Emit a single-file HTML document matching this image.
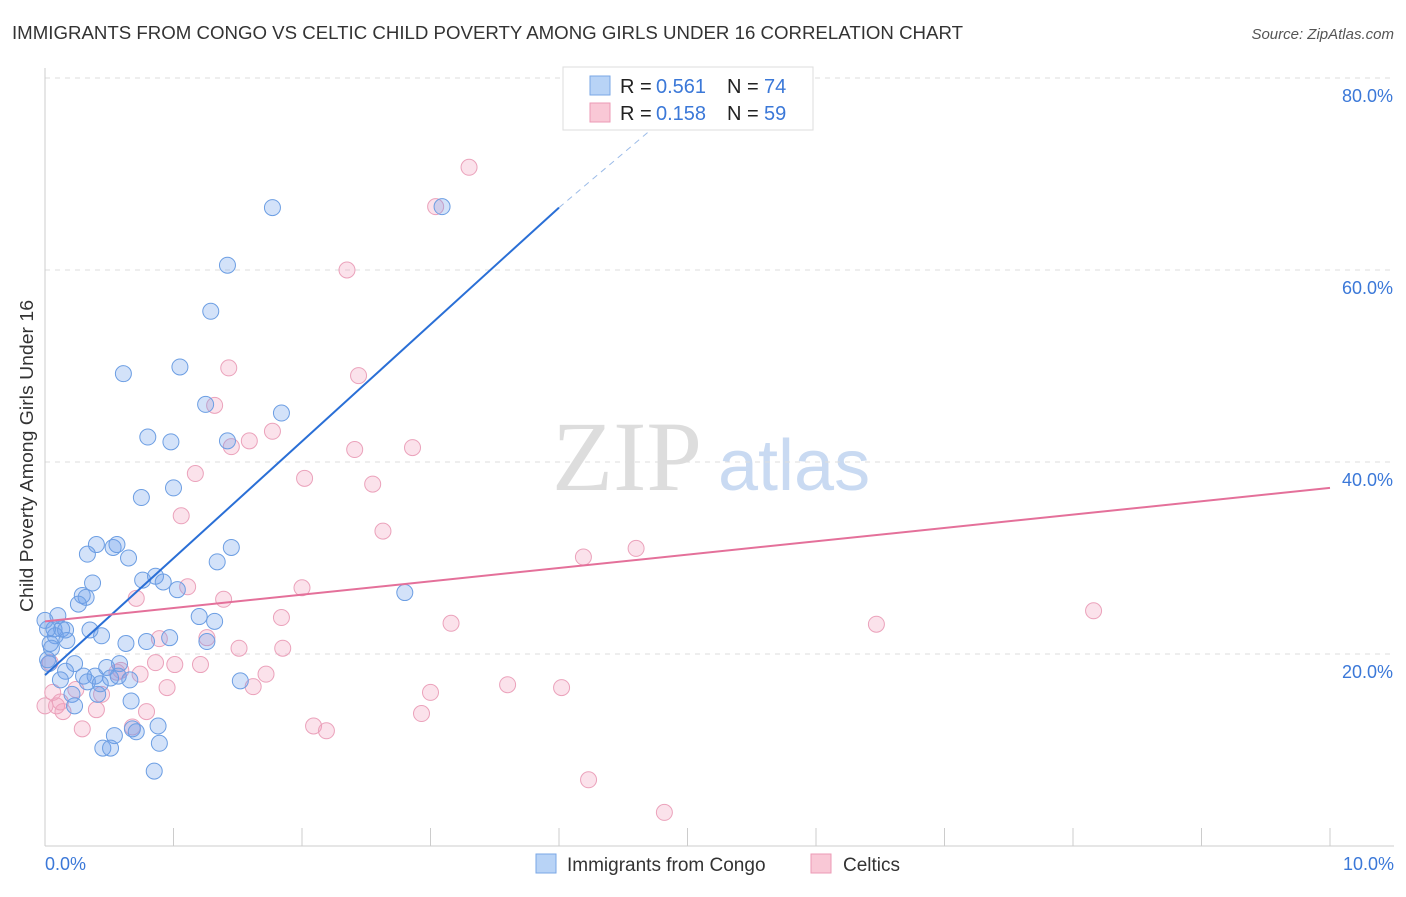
<!DOCTYPE html>
<html><head><meta charset="utf-8"><style>
body{margin:0;background:#fff;font-family:"Liberation Sans",sans-serif;}
</style></head><body>
<svg id="chart" width="1406" height="892" xmlns="http://www.w3.org/2000/svg" font-family="Liberation Sans, sans-serif">
<text x="12" y="39" font-size="18" fill="#333" textLength="951" lengthAdjust="spacingAndGlyphs">IMMIGRANTS FROM CONGO VS CELTIC CHILD POVERTY AMONG GIRLS UNDER 16 CORRELATION CHART</text>
<text x="1394" y="39" font-size="15" fill="#555" text-anchor="end" font-style="italic">Source: ZipAtlas.com</text>
<text x="552" y="490" font-size="100" fill="#ddd" style="font-family:'Liberation Serif',serif">ZIP</text>
<text x="718" y="490" font-size="72" fill="#c9daf2">atlas</text>
<text transform="translate(33,456) rotate(-90)" font-size="18" fill="#333" text-anchor="middle" textLength="312" lengthAdjust="spacingAndGlyphs">Child Poverty Among Girls Under 16</text>
<g id="grid"></g><g id="pts"></g><g id="lines"></g>
<g>
<rect x="563" y="67" width="250" height="63" fill="#fff" stroke="#ddd"/>
<rect x="590" y="76" width="20" height="19" fill="#b8d3f6" stroke="#7aa7e6"/>
<rect x="590" y="103" width="20" height="19" fill="#f9c8d6" stroke="#ec9ab5"/>
<text x="620" y="93" font-size="20" fill="#222">R = </text><text x="656" y="93" font-size="20" fill="#3b78d8">0.561</text>
<text x="727" y="93" font-size="20" fill="#222">N = </text><text x="764" y="93" font-size="20" fill="#3b78d8">74</text>
<text x="620" y="120" font-size="20" fill="#222">R = </text><text x="656" y="120" font-size="20" fill="#3b78d8">0.158</text>
<text x="727" y="120" font-size="20" fill="#222">N = </text><text x="764" y="120" font-size="20" fill="#3b78d8">59</text>
</g>
<g>
<rect x="536" y="854" width="20" height="19" fill="#b8d3f6" stroke="#7aa7e6"/>
<text x="567" y="871" font-size="19" fill="#333">Immigrants from Congo</text>
<rect x="811" y="854" width="20" height="19" fill="#f9c8d6" stroke="#ec9ab5"/>
<text x="843" y="871" font-size="19" fill="#333">Celtics</text>
</g>
</svg>
<script>
const yTicks=[20,40,60,80];
const xTickLabels=["0.0%","10.0%"];
const blueX=[1.77,3.09,1.42,1.29,0.61,1.05,1.25,1.84,0.80,0.98,1.42,1.00,0.75,0.40,0.33,0.53,0.56,0.65,1.45,1.34,0.37,0.76,0.86,0.92,1.03,2.80,0.29,0.32,0.26,0.10,0.07,0.13,0.08,0.17,0.16,0.02,0.04,0.44,0.35,0.63,0.79,0.97,1.20,1.32,1.26,0.03,0.23,0.16,0.30,0.39,0.48,0.58,0.51,0.57,0.66,0.21,0.41,0.33,0.43,1.52,0.23,0.67,0.88,0.68,0.71,0.54,0.45,0.51,0.89,0.85,0.00,0.05,0.12,0.02];
const blueY=[66.5,66.6,60.5,55.7,49.2,49.9,46.0,45.1,42.6,42.1,42.2,37.3,36.3,31.4,30.4,31.1,31.4,30.0,31.1,29.6,27.4,27.7,28.1,27.5,26.7,26.4,26.1,25.9,25.2,24.0,22.6,22.6,21.9,21.4,22.5,22.6,21.1,21.9,22.5,21.1,21.3,21.7,23.9,23.4,21.3,19.0,19.0,18.2,17.7,17.7,18.6,19.0,17.5,17.7,17.3,15.8,15.8,17.1,16.9,17.2,14.6,15.1,12.5,12.2,11.9,11.5,10.2,10.2,10.7,7.8,23.5,20.6,17.3,19.4];
const pinkX=[3.30,3.04,2.35,1.43,2.44,1.32,1.77,1.59,1.45,2.41,2.86,1.17,2.02,2.55,1.06,2.63,4.19,4.60,1.11,2.00,0.71,1.39,1.84,3.16,6.47,8.16,0.89,1.26,1.51,1.85,0.86,1.01,1.21,0.59,0.74,1.72,0.24,0.44,0.95,1.62,3.00,3.60,4.02,0.09,0.14,0.40,0.79,2.93,2.09,2.19,0.29,0.68,4.23,4.82,0.04,0.06,0.56,0.00,0.12];
const pinkY=[70.7,66.6,60.0,49.8,49.0,45.9,43.2,42.2,41.6,41.3,41.5,38.8,38.3,37.7,34.4,32.8,30.1,31.0,27.0,26.9,25.8,25.7,23.8,23.2,23.1,24.5,21.6,21.7,20.6,20.6,19.1,18.9,18.9,18.3,17.9,17.9,16.3,15.8,16.5,16.6,16.0,16.8,16.5,14.6,14.0,14.2,14.0,13.8,12.5,12.0,12.2,12.4,6.9,3.5,19.1,16.0,18.1,14.6,15.0];
const blueLine=[0,17.8,4.0,66.5,4.75,75];
const pinkLine=[0,23.4,10,37.3];
const NS="http://www.w3.org/2000/svg";
const X=v=>45+v*128.5, Y=v=>846-v*9.6;
function mk(p,t,a){const e=document.createElementNS(NS,t);for(const k in a)e.setAttribute(k,a[k]);p.appendChild(e);return e;}
const g=document.getElementById('grid');
yTicks.forEach(t=>{
 const l=mk(g,'line',{x1:45,x2:1394,y1:Y(t),y2:Y(t),stroke:'#ddd','stroke-dasharray':'5,5'});
 
 
 const tx=mk(g,'text',{x:1393,y:Y(t)+24,'font-size':18,fill:'#3b78d8','text-anchor':'end'});tx.textContent=t.toFixed(1)+'%';
 
 
});
mk(g,'line',{x1:45,x2:45,y1:68,y2:846,stroke:'#ccc'});
mk(g,'line',{x1:45,x2:1394,y1:846,y2:846,stroke:'#ccc'});
for(let i=0;i<=10;i++){const tk=mk(g,'line',{x1:X(i),x2:X(i),y1:828,y2:846,stroke:'#ccc'});
 
 }
const xl0=mk(g,'text',{x:45,y:870,'font-size':18,fill:'#3b78d8'});xl0.textContent=xTickLabels[0];


const xl1=mk(g,'text',{x:1394,y:870,'font-size':18,fill:'#3b78d8','text-anchor':'end'});xl1.textContent=xTickLabels[1];


const pg=document.getElementById('pts');
pinkX.forEach((v,i)=>{const c=mk(pg,'circle',{cx:X(v),cy:Y(pinkY[i]),r:8,fill:'rgba(242,160,188,0.3)',stroke:'#eba2bb','stroke-width':1});
 
 });
blueX.forEach((v,i)=>{const c=mk(pg,'circle',{cx:X(v),cy:Y(blueY[i]),r:8,fill:'rgba(110,160,235,0.3)',stroke:'#6c9ee3','stroke-width':1});
 
 });
const lg=document.getElementById('lines');
const bl=mk(lg,'line',{x1:X(blueLine[0]),y1:Y(blueLine[1]),x2:X(blueLine[2]),y2:Y(blueLine[3]),stroke:'#2a6fd6','stroke-width':2});


const bd=mk(lg,'line',{x1:X(blueLine[2]),y1:Y(blueLine[3]),x2:X(blueLine[4]),y2:Y(blueLine[5]),stroke:'#9bbbe8','stroke-width':1,'stroke-dasharray':'6,5'});


const pl=mk(lg,'line',{x1:X(pinkLine[0]),y1:Y(pinkLine[1]),x2:X(pinkLine[2]),y2:Y(pinkLine[3]),stroke:'#e4709a','stroke-width':2});


</script>
</body></html>
